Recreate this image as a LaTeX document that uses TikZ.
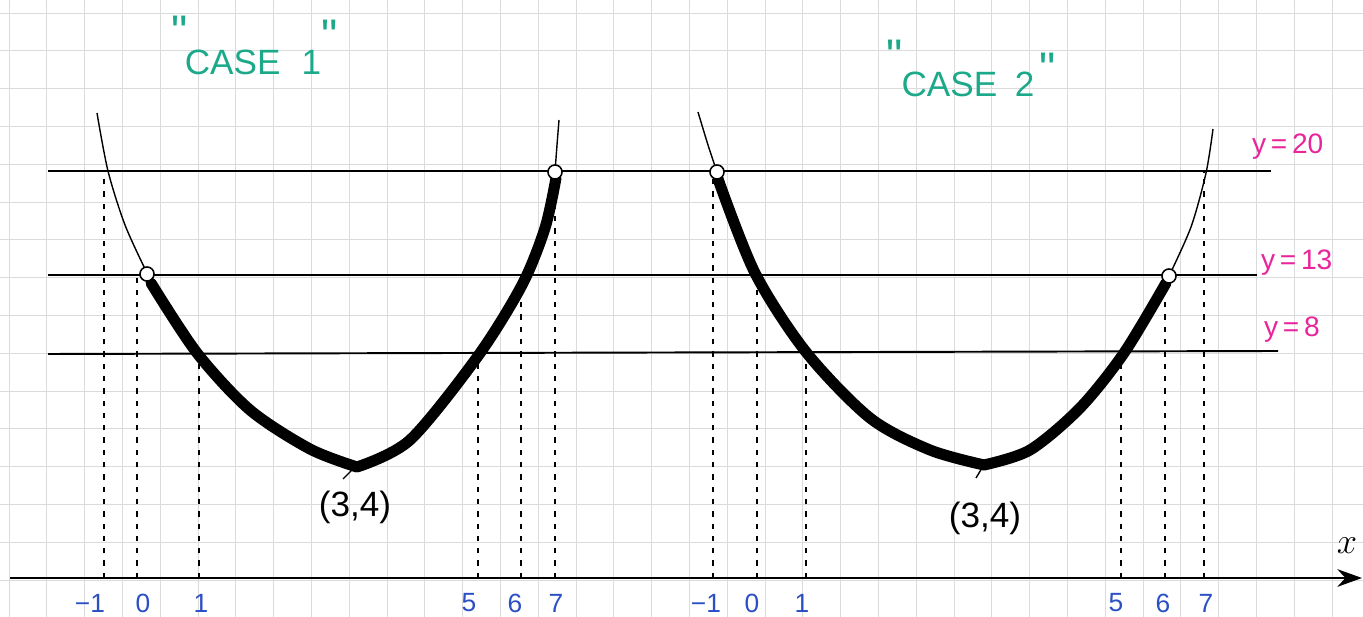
\documentclass[tikz,border=0pt]{standalone}
\usepackage{fontspec}
\setmainfont{Liberation Sans}
\usetikzlibrary{arrows.meta}
\definecolor{casegreen}{HTML}{1BA98A}
\definecolor{ylab}{HTML}{E8259A}
\definecolor{ticklab}{HTML}{2B4FC4}
\begin{document}
\begin{tikzpicture}[x=0.02cm,y=-0.02cm,
  paper/.style={black!14,line width=0.4pt},
  level/.style={line width=1.1pt},
  thincurve/.style={line width=0.8pt},
  thickcurve/.style={line width=6.3pt,line cap=round,line join=round},
  drop/.style={line width=0.8pt,dash pattern=on 3pt off 4pt},
  hole/.style={circle,draw,line width=0.9pt,fill=white,inner sep=0pt,minimum size=8pt},
  case/.style={text=casegreen,font=\fontsize{20}{20}\selectfont},
  quote/.style={text=casegreen,font=\fontsize{26}{26}\selectfont},
  ylabel/.style={text=ylab,font=\fontsize{16}{16}\selectfont,anchor=west},
  ticklabel/.style={text=ticklab,font=\fontsize{15}{15}\selectfont},
  vertexlabel/.style={font=\fontsize{20}{20}\selectfont}]
\useasboundingbox (0,0) rectangle (1363,617);
\foreach \i in {0,...,35} \draw[paper] (9+37.8*\i,0) -- (9+37.8*\i,617);
\foreach \j in {0,...,15} \draw[paper] (0,13+37.8*\j) -- (1363,13+37.8*\j);
\coordinate (l20a) at (48,171); \coordinate (l20b) at (1271,171);
\coordinate (l13a) at (48,275); \coordinate (l13b) at (1257,275);
\coordinate (l8a) at (48,354); \coordinate (l8b) at (1278,351);
\draw[level] (l20a) -- (l20b);
\draw[level] (l13a) -- (l13b);
\draw[level] (l8a) -- (l8b);
\node[ylabel] (y20) at (1246,147) {y\,=\,20};
\node[ylabel] (y13) at (1255,263) {y\,=\,13};
\node[ylabel] (y8) at (1258,330) {y\,=\,8};
\coordinate (o) at (10,578); \coordinate (xend) at (1362,578);
\draw[line width=1.6pt,-{Stealth[length=14pt,width=10pt]}] (o) -- (xend);
\node[font=\fontsize{20}{20}\selectfont] (xlab) at (1347,546) {$x$};
\foreach \n/\xf/\yt/\lab/\xl in {a/104/171/−1/90,b/137/275/0/143,c/199/354/1/201,d/478/354/5/469,e/521/288/6/515,f/555/176/7/556,
  g/713/172/−1/706,h/757/276/0/752,i/806/353/1/802,j/1121/353/5/1116,k/1165/276/6/1163,l/1204/172/7/1206}{
  \coordinate (f\n) at (\xf,578); \coordinate (t\n) at (\xf,\yt);
  \draw[drop] (f\n) -- (t\n);
  \node[ticklabel] (n\n) at (\xl,603) {\lab};}
% case 1
\draw[thincurve] plot[smooth] coordinates {(97,113) (108,171) (125,225) (147,273)};
\draw[thincurve] plot[smooth] coordinates {(555,172) (557,145) (559,120)};
\draw[thickcurve] plot[smooth] coordinates {(151,283) (197,353) (250,410) (310,449) (357,467)};
\draw[thickcurve] plot[smooth] coordinates {(357,467) (410,440) (478,356) (522,285) (545,228) (556,178)};
\node[hole] (h1a) at (147,274) {};
\node[hole] (h1b) at (555,172) {};
\draw[line width=0.8pt] (343,479) -- (357,465);
\node[vertexlabel] (v1) at (355,507) {(3,4)};
% case 2
\draw[thincurve] plot[smooth] coordinates {(698,112) (708,145) (717,172)};
\draw[thincurve] plot[smooth] coordinates {(1169,276) (1191,227) (1206,173) (1213,129)};
\draw[thickcurve] plot[smooth] coordinates {(718,179) (755,273) (806,352) (870,418) (930,450) (984,465)};
\draw[thickcurve] plot[smooth] coordinates {(984,465) (1030,450) (1080,408) (1124,353) (1166,283)};
\node[hole] (h2a) at (717,172) {};
\node[hole] (h2b) at (1169,276) {};
\draw[line width=0.8pt] (976,478) -- (985,463);
\node[vertexlabel] (v2) at (985,518) {(3,4)};
\node[case] (case1) at (253,62) {CASE\hspace{.6em}1};
\node[quote] (q1a) at (180,32) {\textquotedbl};
\node[quote] (q1b) at (330,36) {\textquotedbl};
\node[case] (case2) at (968,84) {CASE\hspace{.5em}2};
\node[quote] (q2a) at (895,56) {\textquotedbl};
\node[quote] (q2b) at (1048,69) {\textquotedbl};
\end{tikzpicture}
\end{document}
